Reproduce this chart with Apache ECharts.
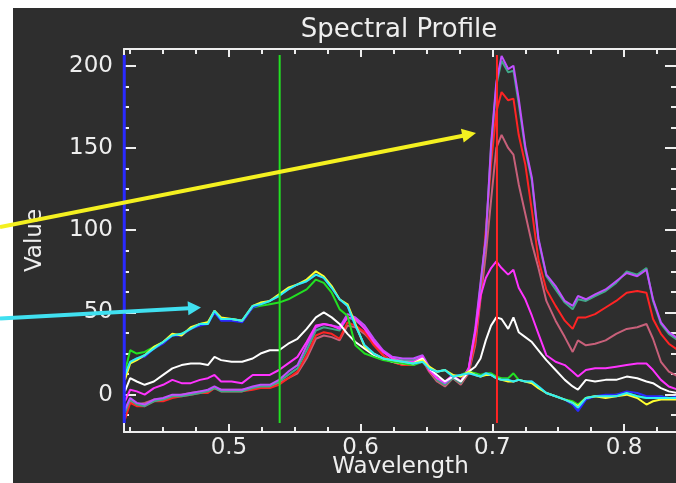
<!DOCTYPE html>
<html>
<head>
<meta charset="utf-8">
<title>Spectral Profile</title>
<script src="https://cdn.jsdelivr.net/npm/echarts@6/dist/echarts.min.js"></script>
<style>
    html, body { margin: 0; padding: 0; background: #ffffff; }
    #main { width: 676px; height: 483px; }
</style>
</head>
<body>
<div id="main"></div>
<script>
// wavelength (micrometre) of every sample, shared by all profiles
var wavelengths = [0.421, 0.425, 0.430, 0.436, 0.443, 0.450, 0.457, 0.464, 0.471, 0.478,
    0.484, 0.489, 0.494, 0.502, 0.510, 0.518, 0.524, 0.531, 0.538, 0.545,
    0.552, 0.559, 0.566, 0.572, 0.578, 0.584, 0.590, 0.596, 0.603, 0.610,
    0.617, 0.624, 0.632, 0.640, 0.647, 0.652, 0.658, 0.664, 0.670, 0.676,
    0.682, 0.687, 0.691, 0.695, 0.699, 0.703, 0.707, 0.712, 0.716, 0.720,
    0.725, 0.730, 0.735, 0.741, 0.748, 0.755, 0.761, 0.765, 0.771, 0.778,
    0.786, 0.794, 0.802, 0.810, 0.817, 0.822, 0.828, 0.834, 0.841];

var roseVals = [-10, -4, -6, -5, -3, -3, -1, 0, 1, 2, 2, 4, 3, 3, 3, 4, 5, 5, 7, 10,
    13, 22, 34, 36, 35, 33, 42, 41, 37, 31, 24, 20, 18, 18, 21, 14, 8, 5, 10, 6,
    13, 30, 58, 85, 118, 150, 158, 150, 146, 128, 110, 92, 77, 57, 45, 35, 26, 33, 30, 31,
    33, 37, 40, 41, 43, 34, 20, 14, 11];
var redVals = [-15, -5, -7, -7, -4, -4, -2, -1, 0, 1, 1, 4, 2, 2, 2, 3, 4, 4, 6, 10,
    14, 24, 36, 38, 37, 34, 44, 42, 38, 30, 24, 20, 18, 18, 21, 15, 9, 6, 10, 7,
    14, 32, 60, 100, 140, 172, 184, 179, 180, 158, 140, 112, 82, 64, 54, 45, 40, 47, 47, 49,
    53, 57, 62, 63, 62, 46, 37, 31, 27];
var tealVals = [-11, -3, -6, -7, -4, -3, -1, -1, 0, 1, 2, 4, 2, 2, 2, 4, 5, 5, 8, 12,
    16, 27, 39, 41, 40, 39, 47, 45, 41, 33, 26, 22, 21, 21, 23, 16, 9, 6, 10, 7,
    15, 38, 66, 95, 150, 188, 203, 196, 197, 177, 149, 130, 94, 72, 64, 56, 52, 58, 57, 60,
    63, 68, 75, 73, 77, 57, 43, 37, 33];
var violetVals = [-9, -2, -5, -6, -3, -2, 0, 0, 1, 2, 3, 5, 3, 3, 3, 5, 6, 6, 9, 14,
    18, 30, 41, 43, 42, 41, 49, 47, 42, 34, 27, 23, 22, 22, 24, 17, 10, 7, 11, 8,
    16, 40, 68, 95, 152, 190, 206, 198, 200, 180, 151, 132, 95, 73, 66, 57, 54, 60, 58, 61,
    64, 69, 74, 72, 76, 58, 44, 38, 34];
var magentaVals = [-4, 3, 2, 0, 4, 6, 9, 7, 7, 9, 10, 12, 8, 8, 7, 12, 12, 12, 15, 19,
    23, 32, 42, 43, 42, 40, 47, 46, 40, 32, 26, 22, 20, 20, 23, 15, 10, 8, 12, 8,
    16, 38, 60, 71, 77, 81, 77, 73, 76, 65, 58, 48, 37, 24, 20, 18, 14, 11, 15, 16,
    16, 17, 18, 19, 19, 15, 9, 5, 3];
var whiteVals = [2, 10, 8, 6, 8, 12, 16, 18, 19, 19, 18, 23, 21, 20, 20, 22, 25, 27, 27, 31,
    34, 40, 47, 50, 47, 43, 37, 32, 28, 24, 22, 20, 19, 19, 22, 16, 12, 8, 11, 8,
    14, 17, 22, 33, 42, 47, 46, 40, 47, 38, 35, 32, 27, 21, 15, 9, 5, 3, 9, 8,
    9, 9, 11, 10, 8, 7, 4, 2, 1];
var greenVals = [14, 27, 25, 26, 29, 32, 36, 37, 40, 43, 44, 50, 46, 46, 45, 53, 54, 55, 56, 58,
    61, 64, 70, 68, 62, 52, 48, 30, 25, 23, 21, 20, 19, 18, 20, 16, 14, 15, 11, 12,
    14, 13, 12, 13, 13, 11, 10, 10, 13, 9, 8, 8, 5, 1, -1, -3, -4, -6, -2, -1,
    -1, 0, 1, -1, -2, -2, -1, -2, -2];
var blueVals = [11, 20, 22, 23, 28, 31, 36, 36, 40, 42, 43, 50, 45, 45, 44, 53, 55, 57, 60, 64,
    67, 69, 73, 71, 65, 58, 54, 42, 30, 25, 22, 21, 20, 19, 20, 16, 14, 15, 11, 12,
    13, 12, 11, 13, 12, 10, 9, 9, 8, 9, 8, 8, 5, 1, -1, -3, -6, -10, -3, -1,
    0, 0, 2, 1, -1, -1, -1, -2, -1];
var yellowVals = [9, 19, 21, 24, 29, 32, 37, 36, 41, 43, 44, 51, 47, 46, 45, 54, 56, 57, 61, 65,
    67, 70, 75, 72, 66, 58, 55, 43, 29, 25, 22, 21, 20, 19, 21, 17, 14, 15, 12, 11,
    14, 12, 11, 12, 12, 10, 9, 8, 8, 9, 8, 7, 4, 1, -1, -3, -5, -7, -2, -1,
    -2, -1, 0, -2, -6, -4, -3, -3, -3];
var cyanVals = [12, 20, 22, 24, 28, 32, 36, 37, 40, 43, 43, 51, 46, 46, 45, 54, 55, 57, 60, 64,
    67, 69, 73, 71, 65, 58, 54, 42, 30, 25, 22, 21, 20, 19, 20, 16, 14, 15, 11, 12,
    13, 12, 11, 13, 12, 10, 9, 9, 8, 9, 8, 8, 5, 1, -1, -3, -5, -8, -2, -1,
    -1, -1, 1, -1, -2, -2, -2, -2, -2];

// cursor lines (wavelength) and their vertical extent
var markerWavelengths = [0.4205, 0.5385, 0.7035];
var markerRange = [-17.3, 206.5];

// tick positions
var xMajorTicks = [0.5, 0.6, 0.7, 0.8];
var xMinorTicks = [0.425, 0.45, 0.475, 0.525, 0.55, 0.575, 0.625, 0.65, 0.675, 0.725, 0.75, 0.775, 0.825];
var yMajorTicks = [0, 50, 100, 150, 200];
var yMinorTicks = [-12.5, 12.5, 25, 37.5, 62.5, 75, 87.5, 112.5, 125, 137.5, 162.5, 175, 187.5];

var xMin = 0.4203, xMax = 0.8402;
var yMin = -22.7, yMax = 210.2;

var fontName = 'DejaVu Sans';
var fg = '#eeeeee';

function pairs(vals) {
    return wavelengths.map(function (w, i) { return [w, vals[i]]; });
}

// profile series, drawn in this order
var profiles = [
    { name: 'rose', vals: roseVals, color: '#c8607a' },
    { name: 'red', vals: redVals, color: '#ff2424' },
    { name: 'teal', vals: tealVals, color: '#40a888' },
    { name: 'violet', vals: violetVals, color: '#c050ff' },
    { name: 'magenta', vals: magentaVals, color: '#ff33ff' },
    { name: 'white', vals: whiteVals, color: '#ffffff' },
    { name: 'green', vals: greenVals, color: '#22e022' },
    { name: 'blue', vals: blueVals, color: '#2a2aff' },
    { name: 'yellow', vals: yellowVals, color: '#ffff30' },
    { name: 'cyan', vals: cyanVals, color: '#30f0f0' }
];
var markerColors = ['#2a2aff', '#22e022', '#ff2424'];
var markerWidths = [3, 2, 2];

var series = [];
profiles.forEach(function (p) {
    series.push({
        name: p.name, type: 'line', xAxisIndex: 0, yAxisIndex: 0,
        data: pairs(p.vals), showSymbol: false, symbol: 'none',
        lineStyle: { color: p.color, width: 2 }, z: 3
    });
});
markerWavelengths.forEach(function (w, i) {
    series.push({
        name: 'marker' + i, type: 'line', xAxisIndex: 0, yAxisIndex: 0,
        data: [[w, markerRange[0]], [w, markerRange[1]]], symbol: 'none', clip: false,
        lineStyle: { color: markerColors[i], width: markerWidths[i] }, z: 10
    });
});

function tickAxis(gridIndex, pos, min, max, ticks, len, opts) {
    var a = {
        type: 'value', gridIndex: gridIndex, position: pos, min: min, max: max,
        axisLine: { show: !!opts.line, onZero: false, lineStyle: { color: fg, width: 2 } },
        axisTick: { show: true, inside: true, length: len, customValues: ticks, lineStyle: { color: fg, width: 2 } },
        axisLabel: { show: false },
        splitLine: { show: false }
    };
    if (opts.labels) {
        a.axisLabel = {
            show: true, customValues: ticks, color: fg, fontFamily: fontName, fontSize: 23,
            margin: opts.margin, lineHeight: 23,
            formatter: opts.fmt
        };
    }
    if (opts.name) {
        a.name = opts.name;
        a.nameLocation = 'middle';
        a.nameGap = opts.nameGap;
        a.nameMoveOverlap = false;
        a.nameTextStyle = { color: fg, fontFamily: fontName, fontSize: 23 };
    }
    return a;
}

var gridBox = { left: 124, top: 49, right: -1, bottom: 51, outerBoundsMode: 'none', containLabel: false };

var myChart = echarts.init(document.getElementById('main'), null, { renderer: 'canvas' });
myChart.setOption({
    backgroundColor: '#ffffff',
    animation: false,
    grid: [echarts.util.clone(gridBox), echarts.util.clone(gridBox)],
    xAxis: [
        tickAxis(0, 'bottom', xMin, xMax, xMajorTicks, 8, {
            line: true, labels: true, margin: 5,
            fmt: function (v) { return v.toFixed(1); },
            name: 'Wavelength', nameGap: 24
        }),
        tickAxis(0, 'top', xMin, xMax, xMajorTicks, 8, { line: true }),
        tickAxis(1, 'bottom', xMin, xMax, xMinorTicks, 5, {}),
        tickAxis(1, 'top', xMin, xMax, xMinorTicks, 5, {})
    ],
    yAxis: [
        tickAxis(0, 'left', yMin, yMax, yMajorTicks, 12, {
            line: true, labels: true, margin: 11,
            fmt: function (v) { return String(v); },
            name: 'Value', nameGap: 77
        }),
        tickAxis(0, 'right', yMin, yMax, yMajorTicks, 12, { line: true }),
        tickAxis(1, 'left', yMin, yMax, yMinorTicks, 5, {}),
        tickAxis(1, 'right', yMin, yMax, yMinorTicks, 6, {})
    ],
    series: series,
    graphic: [
        // dark plot window
        { type: 'rect', z: -100, silent: true, shape: { x: 13, y: 8, width: 663, height: 475 }, style: { fill: '#2e2e2e' } },
        { type: 'text', z: 50, x: 399, y: 30, style: {
            text: 'Spectral Profile', fill: fg, font: '26px "DejaVu Sans"', textAlign: 'center', textVerticalAlign: 'middle'
        } },
        // annotation arrows
        { type: 'line', z: 60, shape: { x1: 0, y1: 227, x2: 463, y2: 135.7 }, style: { stroke: '#f4f020', lineWidth: 4 } },
        { type: 'polygon', z: 60, shape: { points: [[476, 133], [463.7, 142.6], [460.9, 128.8]] }, style: { fill: '#f4f020' } },
        { type: 'line', z: 60, shape: { x1: 0, y1: 318.5, x2: 189, y2: 308.2 }, style: { stroke: '#40e0f0', lineWidth: 4 } },
        { type: 'polygon', z: 60, shape: { points: [[201, 307.5], [188.4, 315.2], [187.6, 301.2]] }, style: { fill: '#40e0f0' } }
    ]
});
</script>
</body>
</html>
